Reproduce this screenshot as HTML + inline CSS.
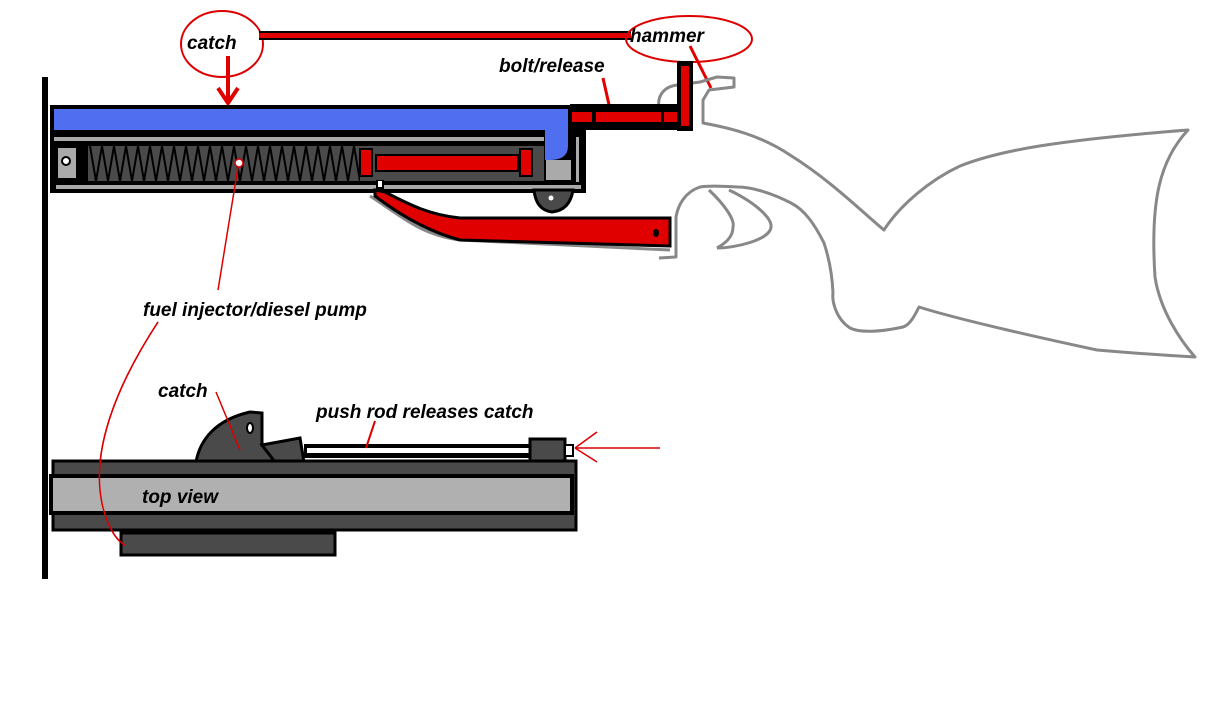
<!DOCTYPE html>
<html><head><meta charset="utf-8"><style>
html,body{margin:0;padding:0;background:#fff;}
svg{display:block}
text{font-family:"Liberation Sans",sans-serif;font-weight:bold;font-style:italic;font-size:19px;fill:#000}
</style></head><body>
<svg width="1218" height="704" viewBox="0 0 1218 704" xmlns="http://www.w3.org/2000/svg">
<rect width="1218" height="704" fill="#fff"/>
<!-- vertical wall -->
<rect x="42" y="77" width="6" height="502" fill="#000"/>

<!-- labels top -->
<ellipse cx="222" cy="44" rx="41" ry="33" fill="none" stroke="#d00" stroke-width="2"/>
<text x="187" y="49">catch</text>
<rect x="259" y="31" width="372" height="9" fill="#000"/>
<rect x="259" y="33" width="372" height="5" fill="#e00000"/>
<ellipse cx="689" cy="39" rx="63" ry="23" fill="none" stroke="#d00" stroke-width="2"/>
<text x="630" y="42">hammer</text>
<text x="499" y="72">bolt/release</text>
<line x1="228" y1="56" x2="228" y2="100" stroke="#e00000" stroke-width="4"/>
<polyline points="218,88 228,103 238,88" fill="none" stroke="#e00000" stroke-width="4"/>
<line x1="603" y1="78" x2="612" y2="118" stroke="#e00000" stroke-width="3"/>
<line x1="690" y1="46" x2="711" y2="88" stroke="#e00000" stroke-width="3"/>

<!-- stock outline -->
<g fill="none" stroke="#888" stroke-width="3" stroke-linejoin="round">
<path d="M659,107 C657,95 665,86 678,85 L700,82 L717,77 L734,78 L734,87 L709,90 L703,100 L703,123
 C730,128 760,135 790,155 C830,180 860,210 884,230 C900,205 930,180 960,166 C1000,150 1060,140 1188,130
 C1160,160 1150,200 1155,277 C1160,310 1180,340 1195,357 C1160,355 1120,352 1097,350 C1050,340 960,320 919,307
 C915,315 910,325 903,327 C880,332 860,333 850,328 C835,318 832,300 833,293 C832,270 828,255 824,243
 C815,225 805,210 791,203 C770,192 750,187 738,187 C720,186 705,186 700,187 C685,192 678,205 676,217
 L676,257 L659,258"/>
<path d="M709,190 C725,205 735,220 733,227 C733,240 720,246 717,248"/>
<path d="M729,190 C760,205 772,220 771,227 C770,240 735,248 717,248"/>
<path d="M370,196 C400,215 420,235 460,240 L670,250"/>
</g>

<!-- top rail -->
<rect x="50" y="105" width="536" height="88" fill="#000"/>
<rect x="54" y="109" width="514" height="21" fill="#4f6ef0"/>
<path d="M545,109 L568,109 L568,146 Q568,160 550,160 L545,160 Z" fill="#4f6ef0"/>
<rect x="54" y="137" width="490" height="4" fill="#aaa"/>
<rect x="56" y="185" width="525" height="4" fill="#aaa"/>
<rect x="576" y="137" width="3" height="45" fill="#aaa"/>
<rect x="58" y="148" width="18" height="30" fill="#aaa"/>
<circle cx="66" cy="161" r="4" fill="#fff" stroke="#000" stroke-width="2"/>
<rect x="88" y="146" width="272" height="35" fill="#4a4a4a"/>
<polyline points="90,146 96,181 102,146 108,181 114,146 120,181 126,146 132,181 138,146 144,181 150,146 156,181 162,146 168,181 174,146 180,181 186,146 192,181 198,146 204,181 210,146 216,181 222,146 228,181 234,146 240,181 246,146 252,181 258,146 264,181 270,146 276,181 282,146 288,181 294,146 300,181 306,146 312,181 318,146 324,181 330,146 336,181 342,146 348,181 354,146 360,181" fill="none" stroke="#000" stroke-width="2"/>
<rect x="360" y="146" width="184" height="35" fill="#4a4a4a"/>
<rect x="360" y="149" width="12" height="27" fill="#e00000" stroke="#000" stroke-width="2"/>
<rect x="376" y="155" width="142" height="16" fill="#e00000" stroke="#000" stroke-width="2"/>
<rect x="520" y="149" width="12" height="27" fill="#e00000" stroke="#000" stroke-width="2"/>
<rect x="546" y="160" width="25" height="20" fill="#aaa"/>
<circle cx="239" cy="163" r="4" fill="#fff" stroke="#d00" stroke-width="1.5"/>
<!-- catch boss -->
<path d="M534,190 L573,190 Q570,210 552,212 Q536,210 534,190 Z" fill="#4a4a4a" stroke="#000" stroke-width="3"/>
<circle cx="551" cy="198" r="2.5" fill="#fff"/>
<!-- lever -->
<path d="M375,190 L385,192 C410,205 430,215 460,218 L670,218 L670,246 L460,240 C430,232 400,215 375,196 Z" fill="#e00000" stroke="#000" stroke-width="3"/>
<rect x="376" y="180" width="8" height="12" fill="#000"/><rect x="378" y="181" width="4" height="6" fill="#fff"/>
<ellipse cx="656" cy="233" rx="3" ry="4" fill="#000"/>

<!-- bolt -->
<rect x="570" y="104" width="123" height="26" fill="#000"/>
<rect x="572" y="112" width="20" height="10" fill="#e00000"/>
<rect x="596" y="112" width="65" height="10" fill="#e00000"/>
<rect x="664" y="112" width="14" height="10" fill="#e00000"/>
<rect x="677" y="61" width="16" height="70" fill="#000"/>
<rect x="681" y="66" width="8" height="60" fill="#e00000"/>

<!-- fuel injector label -->
<text x="143" y="316">fuel injector/diesel pump</text>
<path d="M238,167 L218,290" stroke="#d00" stroke-width="1.5" fill="none"/>
<path d="M158,322 C120,380 95,440 100,490 C103,520 115,540 125,545" stroke="#d00" stroke-width="1.5" fill="none"/>

<!-- bottom view -->
<text x="158" y="397">catch</text>
<text x="316" y="418">push rod releases catch</text>
<path d="M196,462 C200,440 215,420 250,412 L262,413 L262,445 L300,445 L302,462 Z" fill="#4a4a4a" stroke="#000" stroke-width="3"/>
<path d="M262,445 L300,438 L304,462 L275,462 Z" fill="#4a4a4a" stroke="#000" stroke-width="3"/>
<ellipse cx="250" cy="428" rx="3" ry="5" fill="#fff" stroke="#000" stroke-width="2"/>
<rect x="304" y="444" width="228" height="14" fill="#000"/>
<rect x="307" y="448" width="223" height="5" fill="#fff"/>
<rect x="530" y="439" width="35" height="22" fill="#4a4a4a" stroke="#000" stroke-width="3"/>
<rect x="565" y="445" width="8" height="11" fill="#fff" stroke="#000" stroke-width="2"/>
<line x1="575" y1="448" x2="660" y2="448" stroke="#d00" stroke-width="1.5"/>
<line x1="575" y1="448" x2="597" y2="432" stroke="#d00" stroke-width="1.5"/>
<line x1="575" y1="448" x2="597" y2="462" stroke="#d00" stroke-width="1.5"/>
<line x1="216" y1="392" x2="240" y2="450" stroke="#d00" stroke-width="1.5"/>
<line x1="375" y1="421" x2="366" y2="448" stroke="#d00" stroke-width="2"/>
<rect x="53" y="461" width="523" height="69" fill="#4a4a4a" stroke="#000" stroke-width="3"/>
<rect x="51" y="476" width="521" height="37" fill="#b0b0b0" stroke="#000" stroke-width="4"/>
<rect x="121" y="533" width="214" height="22" fill="#4a4a4a" stroke="#000" stroke-width="3"/>
<text x="142" y="503">top view</text>
<path d="M158,322 C120,380 95,440 100,490 C103,520 115,540 125,545" stroke="#d00" stroke-width="1.5" fill="none"/>
</svg>
</body></html>
